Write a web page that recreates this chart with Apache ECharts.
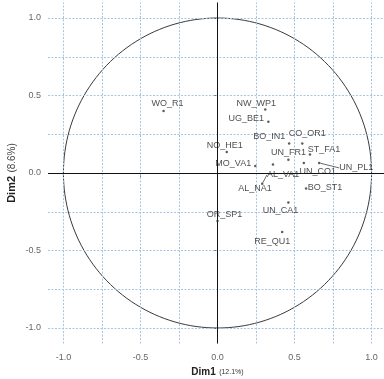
<!DOCTYPE html>
<html>
<head>
<meta charset="utf-8">
<script src="https://cdn.jsdelivr.net/npm/echarts@6/dist/echarts.min.js"></script>
<style>
  html, body { margin: 0; padding: 0; background: #fff; }
  #chart { width: 384px; height: 379px; }
</style>
</head>
<body>
<div id="chart"></div>
<script>
// Variables on the first two principal dimensions (correlation circle)
const variables = ['WO_R1', 'NW_WP1', 'UG_BE1', 'BO_IN1', 'CO_OR1', 'UN_FR1', 'ST_FA1', 'UN_PL1',
  'UN_CO1', 'NO_HE1', 'MO_VA1', 'AL_VA1', 'AL_NA1', 'BO_ST1', 'UN_CA1', 'RE_QU1', 'OR_SP1'];
const dim1 = [-0.35, 0.31, 0.33, 0.465, 0.55, 0.46, 0.60, 0.66,
  0.56, 0.06, 0.245, 0.29, 0.36, 0.575, 0.46, 0.42, 0.0];
const dim2 = [0.40, 0.41, 0.33, 0.19, 0.19, 0.085, 0.12, 0.065,
  0.065, 0.135, 0.045, -0.07, 0.055, -0.10, -0.19, -0.38, -0.31];

const dim1Title = 'Dim1';
const dim1Share = '(12.1%)';
const dim2Title = 'Dim2';
const dim2Share = '(8.6%)';

const tickValues = [-1, -0.5, 0, 0.5, 1];
const gridValues = [-1, -0.75, -0.5, -0.25, 0, 0.25, 0.5, 0.75, 1];

// label placement (pixels, relative to each point), repelled away from neighbours
const labelShift = {
  WO_R1: [4, -7], NW_WP1: [-9, -6], UG_BE1: [-22, -3], BO_IN1: [-20, -7],
  CO_OR1: [5, -10], UN_FR1: [0, -7], ST_FA1: [14, -5], UN_PL1: [37, 5],
  UN_CO1: [14, 9], NO_HE1: [-2, -7], MO_VA1: [-22, -3], AL_VA1: [21, -9],
  AL_NA1: [-18, 24], BO_ST1: [19, -1], UN_CA1: [-8, 8], RE_QU1: [-10, 10],
  OR_SP1: [7, -7]
};
const withLine = { UN_PL1: true, AL_VA1: true };

// unit circle outline
const circle = [];
for (let i = 0; i <= 360; i += 2) {
  const a = i * Math.PI / 180;
  circle.push([Math.cos(a), Math.sin(a)]);
}

const font = 'Liberation Sans, Arial, sans-serif';
const gridStyle = { color: '#a9c3e3', type: [2, 1.5], width: 1 };

const chart = echarts.init(document.getElementById('chart'), null, { renderer: 'canvas' });

chart.setOption({
  animation: false,
  backgroundColor: '#fff',
  grid: { left: 48, right: -3, top: 2.5, bottom: 35.5, containLabel: false, outerBoundsMode: 'none' },
  xAxis: {
    type: 'value', min: -1.1, max: 1.1,
    name: '{b|' + dim1Title + '} {s|' + dim1Share + '}',
    nameLocation: 'middle', nameGap: 23, nameMoveOverlap: false,
    nameTextStyle: {
      rich: {
        b: { fontFamily: font, fontSize: 10, fontWeight: 'bold', color: '#222' },
        s: { fontFamily: font, fontSize: 7, color: '#333' }
      }
    },
    axisLine: { show: false },
    splitLine: { show: false },
    axisTick: { show: true, length: 4, customValues: tickValues, lineStyle: { color: '#777' } },
    axisLabel: {
      customValues: tickValues, margin: 10, fontFamily: font, fontSize: 9, color: '#666',
      formatter: v => v.toFixed(1)
    }
  },
  yAxis: {
    type: 'value', min: -1.1, max: 1.1,
    name: '{b|' + dim2Title + '} {s|' + dim2Share + '}',
    nameLocation: 'middle', nameGap: 30, nameRotate: 90, nameMoveOverlap: false,
    nameTextStyle: {
      rich: {
        b: { fontFamily: font, fontSize: 11, fontWeight: 'bold', color: '#222' },
        s: { fontFamily: font, fontSize: 10, color: '#444' }
      }
    },
    axisLine: { show: false },
    splitLine: { show: false },
    axisTick: { show: true, length: 4, customValues: tickValues, lineStyle: { color: '#777' } },
    axisLabel: {
      customValues: tickValues, margin: 7, fontFamily: font, fontSize: 9, color: '#666',
      formatter: v => v.toFixed(1)
    }
  },
  series: [
    {
      // background grid
      type: 'line', data: [], silent: true, z: 1,
      markLine: {
        silent: true, symbol: 'none', label: { show: false }, animation: false,
        lineStyle: gridStyle,
        data: gridValues.map(v => ({ xAxis: v })).concat(gridValues.map(v => ({ yAxis: v })))
      }
    },
    {
      // correlation circle
      type: 'line', data: circle, showSymbol: false, silent: true, z: 2,
      lineStyle: { color: '#3a3a3a', width: 1 }
    },
    {
      // zero axes
      type: 'line', data: [], silent: true, z: 3,
      markLine: {
        silent: true, symbol: 'none', label: { show: false }, animation: false,
        lineStyle: { color: '#111', type: 'solid', width: 1 },
        data: [{ xAxis: 0 }, { yAxis: 0 }]
      }
    },
    {
      type: 'scatter', z: 5,
      symbol: 'circle', symbolSize: 2.5,
      itemStyle: { color: '#333' },
      data: variables.map((n, i) => ({
        value: [dim1[i], dim2[i]],
        name: n,
        labelLine: { show: !!withLine[n] }
      })),
      label: {
        show: true, position: 'inside', formatter: p => p.name,
        fontFamily: font, fontSize: 9, color: '#222'
      },
      labelLine: { show: false, lineStyle: { color: '#444', width: 0.8 } },
      labelLayout: p => {
        const s = labelShift[variables[p.dataIndex]] || [0, 0];
        return { dx: s[0], dy: s[1] };
      }
    }
  ]
});
</script>
</body>
</html>
